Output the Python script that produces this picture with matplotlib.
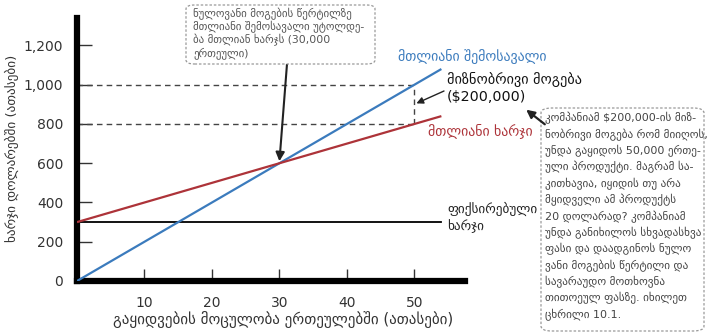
import matplotlib
matplotlib.use("Agg")
import matplotlib.pyplot as plt
from matplotlib.patches import FancyBboxPatch, FancyArrowPatch

# ---- data (thousands of units / thousands of dollars) ----
units = [0, 54]
revenue = [0, 1080]
total_cost = [300, 840]
fixed_cost = [300, 300]
target_units = 50
target_revenue = 1000
target_cost = 800
breakeven_units = 30
breakeven_value = 600
xticks = [10, 20, 30, 40, 50]
yticks = [0, 200, 400, 600, 800, 1000, 1200]
ytick_labels = ["0", "200", "400", "600", "800", "1,000", "1,200"]

xlabel = "გაყიდვების მოცულობა ერთეულებში (ათასები)"
ylabel = "ხარჯი დოლარებში (ათასები)"
revenue_label = "მთლიანი შემოსავალი"
cost_label = "მთლიანი ხარჯი"
fixed_label = "ფიქსირებული\nხარჯი"
target_label = "მიზნობრივი მოგება\n($200,000)"
breakeven_note = ("ნულოვანი მოგების წერტილზე\n"
                  "მთლიანი შემოსავალი უტოლდე-\n"
                  "ბა მთლიან ხარჯს (30,000\n"
                  "ერთეული)")
side_note = ("კომპანიამ $200,000-ის მიზ-\n"
             "ნობრივი მოგება რომ მიიღოს,\n"
             "უნდა გაყიდოს 50,000 ერთე-\n"
             "ული პროდუქტი. მაგრამ სა-\n"
             "კითხავია, იყიდის თუ არა\n"
             "მყიდველი ამ პროდუქტს\n"
             "20 დოლარად? კომპანიამ\n"
             "უნდა განიხილოს სხვადასხვა\n"
             "ფასი და დაადგინოს ნულო\n"
             "ვანი მოგების წერტილი და\n"
             "სავარაუდო მოთხოვნა\n"
             "თითოეულ ფასზე. იხილეთ\n"
             "ცხრილი 10.1.")

BLUE = "#3b7bbd"
RED = "#ad3339"
W, H = 716, 334

def fx(x):
    return x / W

def fy(y):
    return 1 - y / H

plt.rcParams['font.family'] = ['DejaVu Sans']

fig = plt.figure(figsize=(W / 100, H / 100), dpi=100)
fig.patch.set_facecolor("white")
ax = fig.add_axes([fx(77), fy(281), (465 - 77) / W, (281 - 18) / H])
ax.set_xlim(0, 57.5)
ax.set_ylim(0, 1340)

# lines
ax.plot(units, revenue, color=BLUE, lw=1.6, solid_capstyle="butt", zorder=3)
ax.plot(units, total_cost, color=RED, lw=1.6, solid_capstyle="butt", zorder=3)
ax.plot(units, fixed_cost, color="black", lw=1.3, zorder=2)

# dashed guides
dash = (0, (4, 3))
ax.plot([0, target_units], [target_revenue, target_revenue], color="#444", lw=1.0, ls=dash)
ax.plot([0, target_units], [target_cost, target_cost], color="#444", lw=1.0, ls=dash)
ax.plot([target_units, target_units], [target_cost, target_revenue], color="#444", lw=1.0, ls=dash)

# spines and ticks
for s in ["top", "right"]:
    ax.spines[s].set_visible(False)
for s in ["left", "bottom"]:
    ax.spines[s].set_linewidth(4.5)
    ax.spines[s].set_color("black")
ax.set_xticks(xticks)
ax.set_yticks(yticks)
ax.set_yticklabels(ytick_labels)
ax.tick_params(axis="y", direction="in", length=11, width=1, color="#333",
               labelsize=10, labelcolor="#333", pad=10)
ax.tick_params(axis="x", direction="in", length=9, width=1, color="#333",
               labelsize=10, labelcolor="#333", pad=11)

fig.text(fx(12), fy(148), ylabel, rotation=90, ha="center", va="center",
         fontsize=9.5, color="#333")
fig.text(fx(283), fy(320), xlabel, ha="center", va="center",
         fontsize=10.8, color="#333")

# series labels
fig.text(fx(398), fy(57), revenue_label, ha="left", va="center", fontsize=10, color=BLUE)
fig.text(fx(428), fy(131), cost_label, ha="left", va="center", fontsize=10, color=RED)
fig.text(fx(447), fy(202), fixed_label, ha="left", va="top", fontsize=9.5,
         color="#222", linespacing=1.25)
fig.text(fx(447), fy(72), target_label, ha="left", va="top", fontsize=10.3,
         color="#111", linespacing=1.3)

# break-even box and arrow
box1 = FancyBboxPatch((fx(186), fy(64)), fx(375) - fx(186), fy(5) - fy(64),
                      boxstyle="round,pad=0,rounding_size=0.012",
                      transform=fig.transFigure, fc="white", ec="#999",
                      lw=0.9, ls=(0, (2, 1.5)), zorder=5)
fig.patches.append(box1)
fig.text(fx(193), fy(8), breakeven_note, ha="left", va="top", fontsize=7.8,
         color="#555", linespacing=1.1, zorder=6)
ax.annotate("", xy=(breakeven_units, breakeven_value + 10), xycoords="data",
            xytext=(fx(287), fy(64)), textcoords="figure fraction",
            arrowprops=dict(arrowstyle="-|>", color="#222", lw=1.5,
                            mutation_scale=13, shrinkA=0, shrinkB=0),
            annotation_clip=False)

# target profit arrow
ax.annotate("", xy=(target_units + 0.3, 905), xycoords="data",
            xytext=(fx(444), fy(91)), textcoords="figure fraction",
            arrowprops=dict(arrowstyle="-|>", color="#222", lw=1.0,
                            mutation_scale=10, shrinkA=0, shrinkB=0),
            annotation_clip=False)

# side note box
box2 = FancyBboxPatch((fx(541), fy(331)), fx(704) - fx(541), fy(108) - fy(331),
                      boxstyle="round,pad=0,rounding_size=0.015",
                      transform=fig.transFigure, fc="white", ec="#999",
                      lw=0.9, ls=(0, (2, 1.5)), zorder=5)
fig.patches.append(box2)
t2 = fig.text(fx(545), fy(112), side_note, ha="left", va="top", fontsize=8,
              color="#444", linespacing=1.45, zorder=6)
t2.set_clip_path(box2)
fig.add_artist(FancyArrowPatch(
    (fx(547), fy(126)), (fx(524), fy(108)), transform=fig.transFigure,
    arrowstyle="-|>", color="#222", lw=1.6, mutation_scale=12, zorder=7))

fig.savefig("out.png", dpi=100)
